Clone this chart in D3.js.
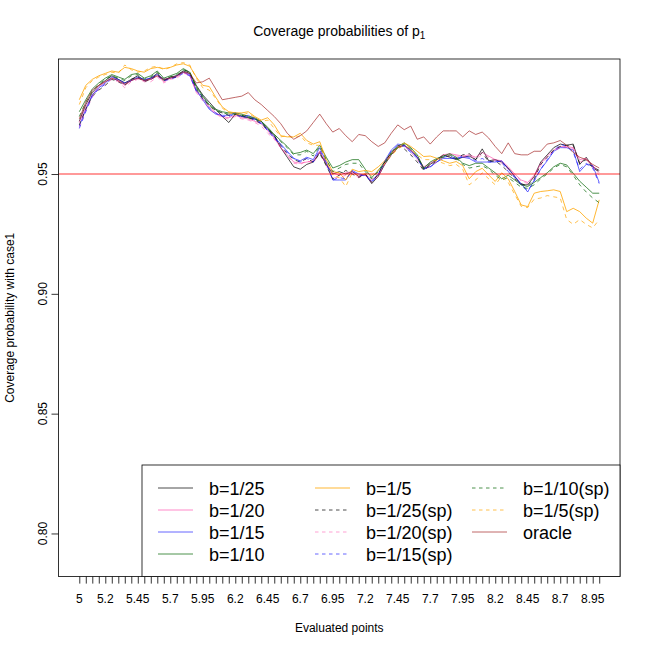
<!DOCTYPE html>
<html>
<head>
<meta charset="utf-8">
<script src="https://cdn.jsdelivr.net/npm/d3@7"></script>
<style>
  body { margin: 0; background: #fff; }
  svg { font-family: "Liberation Sans", Arial, Helvetica, sans-serif; }
</style>
</head>
<body>
<svg id="chart" width="650" height="650"></svg>
<script>
// evaluated points (x categories)
var points = [5, 5.05, 5.1, 5.15, 5.2, 5.25, 5.3, 5.35, 5.4, 5.45,
  5.5, 5.55, 5.6, 5.65, 5.7, 5.75, 5.8, 5.85, 5.9, 5.95,
  6, 6.05, 6.1, 6.15, 6.2, 6.25, 6.3, 6.35, 6.4, 6.45,
  6.5, 6.55, 6.6, 6.65, 6.7, 6.75, 6.8, 6.85, 6.9, 6.95,
  7, 7.05, 7.1, 7.15, 7.2, 7.25, 7.3, 7.35, 7.4, 7.45,
  7.5, 7.55, 7.6, 7.65, 7.7, 7.75, 7.8, 7.85, 7.9, 7.95,
  8, 8.05, 8.1, 8.15, 8.2, 8.25, 8.3, 8.35, 8.4, 8.45,
  8.5, 8.55, 8.6, 8.65, 8.7, 8.75, 8.8, 8.85, 8.9, 8.95, 9];

var xTickLabels = [5, 5.2, 5.45, 5.7, 5.95, 6.2, 6.45, 6.7, 6.95, 7.2, 7.45, 7.7, 7.95, 8.2, 8.45, 8.7, 8.95];
var yTicks = [0.80, 0.85, 0.90, 0.95];
var nominal = 0.95;

var b25 = [.972,.979,.984,.987,.989,.991,.9895,.988,.9895,.991,.989,.990,.992,.989,.9905,.991,.993,.992,.987,.983,
  .980,.977,.974,.9715,.975,.974,.9735,.973,.972,.969,.966,.961,.957,.953,.952,.954,.955,.959,.954,.950,
  .951,.950,.951,.949,.950,.946,.949,.954,.958,.961,.962,.960,.957,.952,.954,.956,.958,.957,.956,.957,
  .9575,.956,.9605,.9555,.956,.955,.9525,.949,.9455,.9455,.949,.955,.958,.961,.9625,.962,.9625,.954,.957,.953,.9515];
var b20 = [.9715,.978,.983,.9865,.9885,.990,.989,.987,.989,.990,.989,.9895,.991,.9885,.990,.9905,.9925,.991,.9845,.9815,
  .978,.9755,.974,.9735,.9745,.9735,.973,.972,.971,.968,.965,.961,.958,.955,.9545,.955,.9555,.9595,.9545,.9505,
  .9495,.9505,.951,.949,.950,.9475,.9495,.9545,.9585,.961,.962,.960,.957,.953,.9545,.956,.958,.9585,.958,.9575,
  .958,.957,.959,.9575,.956,.9555,.953,.950,.9475,.9465,.9495,.9545,.9575,.960,.9615,.9615,.961,.956,.9565,.9535,.9505];
var b15 = [.970,.977,.983,.986,.988,.9905,.9895,.988,.989,.9905,.9895,.990,.9915,.9895,.990,.991,.9925,.9915,.985,.981,
  .977,.975,.9745,.9745,.9755,.974,.9745,.973,.9715,.9685,.9655,.9625,.9595,.9565,.9555,.957,.956,.961,.955,.9475,
  .9475,.9475,.9515,.950,.9495,.947,.950,.9555,.960,.9625,.962,.9595,.957,.9525,.953,.955,.9565,.9565,.9565,.957,
  .9565,.955,.955,.955,.955,.9555,.952,.949,.946,.9425,.9475,.952,.9555,.9595,.961,.961,.960,.951,.954,.9535,.9465];
var b10 = [.976,.981,.9855,.988,.990,.9915,.9905,.9895,.9915,.992,.990,.991,.993,.990,.991,.992,.994,.9925,.9865,.9825,
  .979,.977,.976,.9755,.9755,.975,.974,.9735,.972,.9695,.9665,.964,.9615,.9585,.959,.960,.9585,.962,.957,.9525,
  .9535,.955,.956,.956,.952,.9485,.9515,.955,.959,.9615,.963,.961,.958,.9525,.955,.9565,.9575,.9585,.957,.9545,
  .9535,.9545,.9545,.9525,.9505,.948,.9495,.9475,.9455,.9448,.9465,.9485,.9505,.953,.9545,.9538,.9503,.947,.9445,.942,.942];
var b5 = [.981,.987,.9895,.991,.992,.993,.9925,.9945,.994,.993,.9925,.994,.9945,.994,.9945,.9955,.996,.995,.9905,.987,
  .9865,.982,.978,.976,.9755,.9755,.976,.974,.9725,.9735,.9705,.966,.9655,.9655,.967,.964,.9625,.9635,.956,.951,
  .9505,.9475,.952,.951,.9515,.951,.953,.9555,.9585,.961,.963,.9615,.9595,.9573,.9575,.9566,.9555,.9545,.9552,.9535,
  .948,.951,.9524,.9496,.9469,.9505,.948,.9427,.9371,.9364,.942,.9427,.943,.9434,.9427,.9343,.9357,.9343,.9316,.9295,.9392];
var b25sp = [.9705,.977,.9825,.985,.987,.9895,.9885,.987,.9895,.9905,.9885,.9895,.9915,.989,.990,.9905,.9935,.9925,.9855,.9815,
  .9785,.9765,.9755,.9745,.975,.9745,.9735,.9725,.971,.9685,.966,.962,.9585,.956,.955,.9565,.955,.9585,.9535,.948,
  .9495,.9515,.950,.9485,.950,.9465,.950,.955,.959,.962,.9605,.958,.955,.9515,.9535,.9555,.9575,.9575,.9565,.958,
  .9585,.956,.959,.955,.9555,.9535,.951,.948,.946,.945,.948,.954,.957,.960,.9615,.962,.962,.9545,.956,.9525,.951];
var b20sp = [.9695,.9765,.982,.9855,.9875,.9895,.9885,.986,.9885,.9895,.9885,.9885,.9905,.988,.9895,.990,.992,.9915,.984,.9805,
  .9775,.975,.9735,.973,.974,.973,.9725,.9715,.970,.967,.9645,.961,.9575,.9545,.954,.9555,.9545,.959,.9535,.9485,
  .9485,.9495,.9505,.9485,.9495,.9465,.949,.954,.958,.9615,.9615,.959,.956,.952,.9535,.955,.957,.958,.9575,.957,
  .9575,.9565,.958,.957,.9555,.9545,.952,.9495,.947,.946,.949,.9535,.957,.9595,.961,.961,.9605,.955,.956,.953,.9495];
var b15sp = [.969,.976,.9825,.9855,.9875,.990,.989,.9875,.989,.990,.989,.9895,.991,.989,.9895,.9905,.992,.991,.9845,.9825,
  .9775,.9755,.974,.974,.975,.9735,.974,.9725,.971,.968,.965,.962,.959,.9565,.955,.9565,.955,.960,.9545,.9475,
  .9485,.948,.951,.9495,.9495,.9465,.9495,.955,.9595,.962,.9615,.959,.9565,.952,.953,.955,.957,.9575,.9565,.9575,
  .957,.9555,.9565,.955,.9555,.955,.951,.9485,.9455,.943,.947,.952,.956,.9595,.9625,.9615,.959,.952,.9545,.9525,.946];
var b10sp = [.974,.980,.9845,.9875,.9895,.991,.990,.989,.991,.9915,.9895,.9905,.9925,.9895,.9905,.9915,.9935,.9925,.986,.982,
  .9785,.9765,.9755,.975,.975,.9745,.9735,.973,.9715,.969,.9665,.9635,.961,.958,.958,.9595,.9575,.9615,.956,.951,
  .9525,.954,.9545,.9545,.951,.948,.951,.9545,.9585,.961,.9625,.9605,.9575,.952,.9545,.956,.957,.958,.9565,.954,
  .9525,.953,.9535,.952,.9495,.9475,.9485,.9465,.9445,.944,.9455,.948,.950,.9525,.954,.953,.9495,.9455,.9425,.940,.938];
var b5sp = [.979,.986,.989,.9905,.9915,.9925,.992,.9955,.9935,.9925,.993,.9945,.995,.9935,.9945,.996,.9965,.9955,.990,.986,
  .985,.9815,.9775,.9755,.975,.9745,.9755,.9735,.972,.9725,.969,.9655,.966,.965,.966,.963,.962,.962,.955,.9495,
  .9485,.9448,.9505,.9495,.950,.9495,.9515,.9545,.9575,.9605,.962,.9605,.958,.956,.956,.9555,.9545,.9535,.954,.952,
  .9455,.9475,.9505,.948,.9455,.949,.9465,.9415,.9365,.936,.9395,.940,.941,.9405,.940,.931,.929,.931,.929,.9275,.931];
var oracle = [.973,.980,.985,.987,.9885,.990,.989,.9875,.989,.990,.989,.9895,.991,.9895,.990,.991,.9925,.992,.988,.9885,
  .990,.9855,.981,.9815,.982,.9825,.984,.981,.979,.9765,.974,.971,.967,.9645,.966,.968,.9715,.975,.971,.9675,
  .969,.966,.9635,.9665,.966,.9635,.9615,.963,.967,.9705,.9685,.970,.9645,.9655,.9625,.9655,.968,.968,.968,.9655,
  .968,.9665,.9675,.965,.9615,.9585,.963,.9585,.958,.958,.9595,.9595,.9625,.963,.964,.962,.959,.957,.956,.954,.9525];

var seriesNames = ["b=1/25", "b=1/20", "b=1/15", "b=1/10", "b=1/5",
  "b=1/25(sp)", "b=1/20(sp)", "b=1/15(sp)", "b=1/10(sp)", "b=1/5(sp)", "oracle"];
var seriesValues = [b25, b20, b15, b10, b5, b25sp, b20sp, b15sp, b10sp, b5sp, oracle];
var seriesColors = ["rgba(0,0,0,0.7)", "rgba(255,20,147,0.5)", "rgba(0,0,255,0.6)", "rgba(0,100,0,0.7)", "rgba(255,165,0,0.8)",
  "rgba(0,0,0,0.7)", "rgba(255,20,147,0.4)", "rgba(0,0,255,0.6)", "rgba(0,100,0,0.7)", "rgba(255,165,0,0.7)", "rgba(165,42,42,0.7)"];
var seriesDash = [null, null, null, null, null, "4,4", "4,4", "4,4", "4,4", "4,4", null];

var svg = d3.select("#chart");
var width = +svg.attr("width"),
    height = +svg.attr("height");

var margin = {top: 59, right: 30, bottom: 73.4, left: 58.5};

var x = d3.scaleLinear()
    .domain([5 - 0.16, 9 + 0.16])
    .range([margin.left, width - margin.right]);

var y = d3.scaleLinear()
    .domain([0.782, 0.998])
    .range([height - margin.bottom, margin.top]);

var plot = svg.append("g");

// clip to the plot box
svg.append("clipPath").attr("id", "clip")
  .append("rect")
    .attr("x", margin.left).attr("y", margin.top)
    .attr("width", width - margin.left - margin.right)
    .attr("height", height - margin.top - margin.bottom);

var line = d3.line()
    .x(function(d, i) { return x(points[i]); })
    .y(function(d) { return y(d); });

var lines = plot.append("g").attr("clip-path", "url(#clip)");

lines.selectAll("path.series")
    .data(seriesValues)
  .enter().append("path")
    .attr("class", "series")
    .attr("d", line)
    .attr("fill", "none")
    .attr("stroke", function(d, i) { return seriesColors[i]; })
    .attr("stroke-width", 1)
    .attr("stroke-dasharray", function(d, i) { return seriesDash[i]; });

// nominal level
lines.append("line")
    .attr("x1", margin.left).attr("x2", width - margin.right)
    .attr("y1", y(nominal)).attr("y2", y(nominal))
    .attr("stroke", "rgba(255,0,0,0.4)")
    .attr("stroke-width", 2);

// x axis: a tick at every point, labels only where R kept them
var xAxis = d3.axisBottom(x)
    .tickValues(points)
    .tickSize(7)
    .tickFormat("");

var gx = svg.append("g")
    .attr("transform", "translate(0," + (height - margin.bottom) + ")")
    .call(xAxis);
gx.select(".domain").remove();
gx.selectAll("line").attr("stroke", "#000").attr("stroke-width", 0.8);

svg.append("g").selectAll("text")
    .data(xTickLabels)
  .enter().append("text")
    .attr("x", function(d) { return x(d); })
    .attr("y", 603)
    .attr("text-anchor", "middle")
    .attr("font-size", 12)
    .text(function(d) { return d; });

// y axis
var yAxis = d3.axisLeft(y)
    .tickValues(yTicks)
    .tickSize(7)
    .tickFormat("");

var gy = svg.append("g")
    .attr("transform", "translate(" + margin.left + ",0)")
    .call(yAxis);
gy.select(".domain").remove();
gy.selectAll("line").attr("stroke", "#000").attr("stroke-width", 0.8);

svg.append("g").selectAll("text")
    .data(yTicks)
  .enter().append("text")
    .attr("transform", function(d) { return "translate(47," + y(d) + ") rotate(-90)"; })
    .attr("text-anchor", "middle")
    .attr("font-size", 12)
    .text(function(d) { return d3.format(".2f")(d); });

// plot box
svg.append("rect")
    .attr("x", margin.left).attr("y", margin.top)
    .attr("width", width - margin.left - margin.right)
    .attr("height", height - margin.top - margin.bottom)
    .attr("fill", "none")
    .attr("stroke", "#000")
    .attr("stroke-width", 0.8);

// titles
var title = svg.append("text")
    .attr("x", (margin.left + width - margin.right) / 2)
    .attr("y", 36)
    .attr("text-anchor", "middle")
    .attr("font-size", 14);
title.append("tspan").text("Coverage probabilities of p");
title.append("tspan").attr("font-size", 10).attr("dy", 3).text("1");

svg.append("text")
    .attr("x", (margin.left + width - margin.right) / 2)
    .attr("y", 632)
    .attr("text-anchor", "middle")
    .attr("font-size", 12)
    .text("Evaluated points");

svg.append("text")
    .attr("transform", "translate(14," + ((margin.top + height - margin.bottom) / 2) + ") rotate(-90)")
    .attr("text-anchor", "middle")
    .attr("font-size", 12)
    .text("Coverage probability with case1");

// legend, 3 columns x 4 rows, bottom right
var legendBox = {x: 142, y: 465, w: width - margin.right - 142, h: height - margin.bottom - 465};
var legend = svg.append("g");
legend.append("rect")
    .attr("x", legendBox.x).attr("y", legendBox.y)
    .attr("width", legendBox.w).attr("height", legendBox.h)
    .attr("fill", "#fff")
    .attr("stroke", "#000")
    .attr("stroke-width", 0.8);

var colX = [158, 315, 472],
    rowY = [488, 510, 532, 554];

var item = legend.selectAll("g.item")
    .data(seriesNames)
  .enter().append("g")
    .attr("class", "item")
    .attr("transform", function(d, i) {
      return "translate(" + colX[Math.floor(i / 4)] + "," + rowY[i % 4] + ")";
    });

item.append("line")
    .attr("x1", 0).attr("x2", 35)
    .attr("stroke", function(d, i) { return seriesColors[i]; })
    .attr("stroke-width", 1)
    .attr("stroke-dasharray", function(d, i) { return seriesDash[i] ? "3.5,3.5" : null; });

item.append("text")
    .attr("x", 51)
    .attr("y", 6.5)
    .attr("font-size", 18)
    .text(function(d) { return d; });
</script>
</body>
</html>
